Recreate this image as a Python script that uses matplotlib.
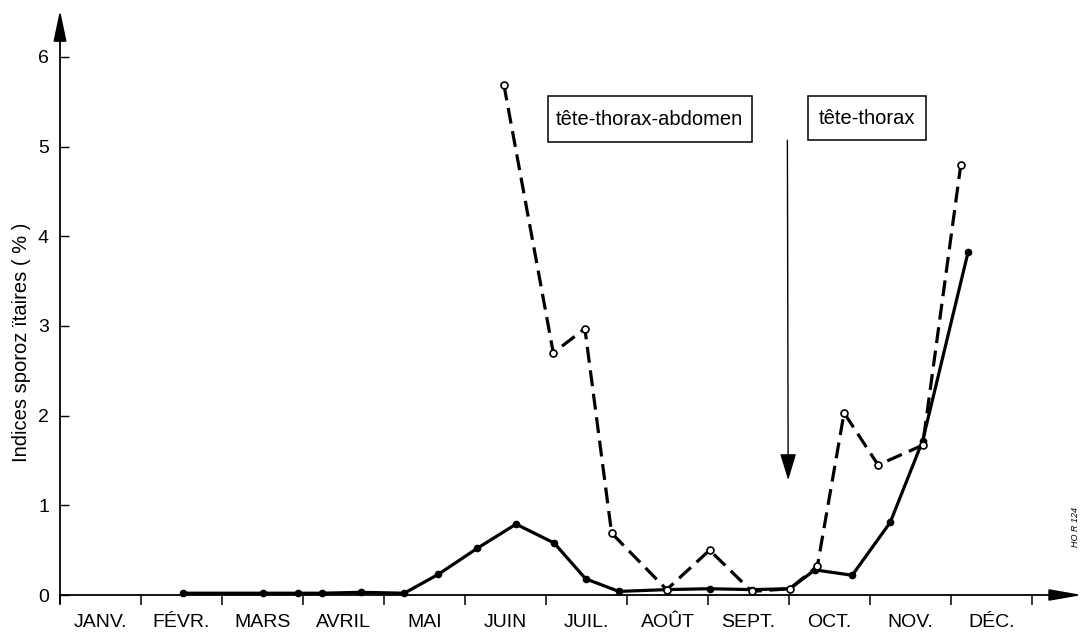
import matplotlib
matplotlib.use("Agg")
import matplotlib.pyplot as plt
from matplotlib.patches import Rectangle

plt.rcParams['font.family'] = ['Liberation Sans', 'DejaVu Sans']

# Month labels (positions are month indices, 0 = 1 January)
months = ["JANV.", "FÉVR.", "MARS", "AVRIL", "MAI", "JUIN",
          "JUIL.", "AOÛT", "SEPT.", "OCT.", "NOV.", "DÉC."]

# Sporozoite indices, head-thorax dissection (solid line)
tt_time = [1.52, 2.51, 2.94, 3.23, 3.72, 4.25, 4.67, 5.15, 5.63, 6.10, 6.49,
           6.90, 7.49, 8.02, 8.54, 9.01, 9.32, 9.78, 10.25, 10.65, 11.21]
tt_index = [0.02, 0.02, 0.02, 0.02, 0.03, 0.02, 0.23, 0.52, 0.79, 0.58, 0.18,
            0.04, 0.06, 0.07, 0.06, 0.07, 0.28, 0.22, 0.81, 1.72, 3.82]

# Sporozoite indices, head-thorax-abdomen dissection (dashed line)
tta_time = [5.48, 6.09, 6.48, 6.81, 7.49, 8.02, 8.54, 9.01, 9.35, 9.68,
            10.10, 10.65, 11.12]
tta_index = [5.69, 2.70, 2.97, 0.69, 0.06, 0.50, 0.04, 0.07, 0.32, 2.03,
             1.45, 1.67, 4.79]

W, H = 1082, 634
fig = plt.figure(figsize=(W / 100, H / 100), dpi=100)
ax = fig.add_axes([60 / W, 39 / H, 1020.6 / W, 587.5 / H])
ax.set_xlim(0, 12.6)
ax.set_ylim(0, 6.55)
for s in ax.spines.values():
    s.set_visible(False)

# axes drawn as arrows
ax.annotate("", xy=(0, 6.52), xytext=(0, -0.09), xycoords="data",
            annotation_clip=False,
            arrowprops=dict(arrowstyle="-|>,head_length=1.9,head_width=0.4",
                            mutation_scale=10, lw=1.3, color="black",
                            shrinkA=0, shrinkB=0))
ax.annotate("", xy=(12.62, 0), xytext=(0, 0), xycoords="data",
            annotation_clip=False,
            arrowprops=dict(arrowstyle="-|>,head_length=2.0,head_width=0.35",
                            mutation_scale=10, lw=1.3, color="black",
                            shrinkA=0, shrinkB=0))

ax.set_xticks(range(13))
ax.set_xticklabels([])
ax.set_xticks([m + 0.5 for m in range(12)], minor=True)
ax.set_xticklabels(months, minor=True, fontsize=14)
ax.tick_params(axis="x", which="major", direction="out", length=7, width=1.1)
ax.tick_params(axis="x", which="minor", length=0, pad=14)

ax.set_yticks(range(7))
ax.set_yticklabels([str(v) for v in range(7)], fontsize=14)
ax.tick_params(axis="y", direction="in", length=6.5, width=1.0, pad=8)

ax.set_ylabel("Indices sporoz ïtaires ( % )", fontsize=14.5)
ax.yaxis.set_label_coords(-0.028, 0.43)

ax.plot(tt_time, tt_index, color="black", lw=2.3, marker="o", ms=4.5,
        mfc="black", mec="black", solid_joinstyle="round", clip_on=False,
        zorder=4)
ax.plot(tta_time, tta_index, color="black", lw=2.3, dashes=(5, 2.4),
        marker="o", ms=5, mfc="white", mec="black", mew=1.2, clip_on=False,
        zorder=5)

# labelled boxes
ax.add_patch(Rectangle((6.02, 5.05), 2.52, 0.51, fill=False, lw=1.1,
                       edgecolor="black"))
ax.text(7.28, 5.30, "tête-thorax-abdomen", ha="center", va="center",
        fontsize=14.5)
ax.add_patch(Rectangle((9.23, 5.07), 1.46, 0.49, fill=False, lw=1.1,
                       edgecolor="black"))
ax.text(9.96, 5.31, "tête-thorax", ha="center", va="center", fontsize=14.5)

# arrow marking the change of dissection method
ax.annotate("", xy=(8.99, 1.28), xytext=(8.98, 5.07), xycoords="data",
            arrowprops=dict(arrowstyle="-|>,head_length=1.65,head_width=0.5",
                            mutation_scale=10, lw=1.0, color="black",
                            shrinkA=0, shrinkB=0))

fig.text(1075 / W, 1 - 527 / H, "HO R 124", rotation=90, ha="center",
         va="center", fontsize=6.5, style="italic")

fig.savefig("out.png", dpi=100, facecolor="white")
